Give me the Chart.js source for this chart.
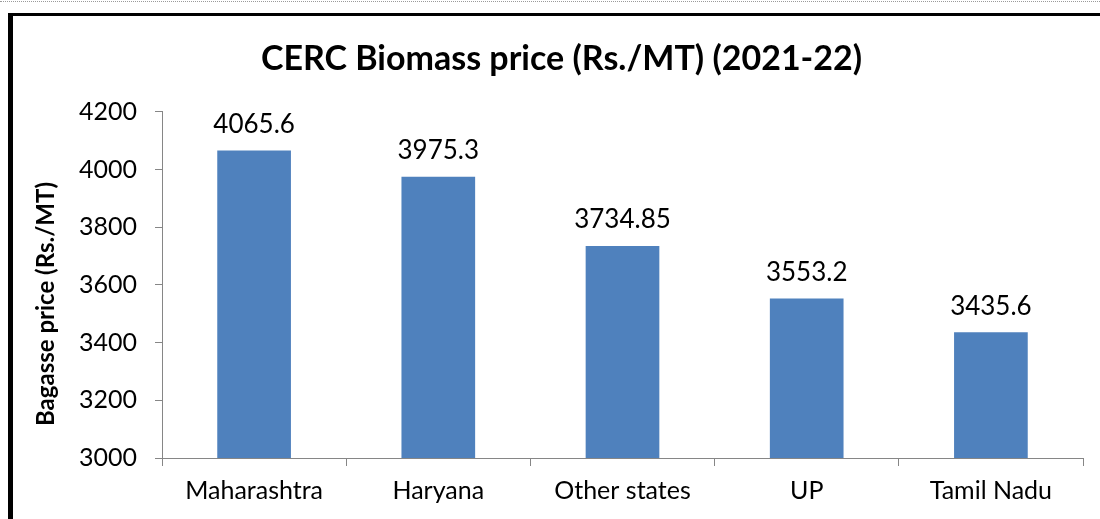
<!DOCTYPE html>
<html>
<head>
<meta charset="utf-8">
<script src="https://cdn.jsdelivr.net/npm/chart.js@4.4.1/dist/chart.umd.min.js"></script>
<style>
  html, body { margin: 0; padding: 0; background: #fff; }
  #page { position: relative; width: 1100px; height: 519px; overflow: hidden; }
  #dots { position: absolute; left: 0; top: 1px; width: 1100px; border-top: 1px dotted #9a9a9a; }
  #frame { position: absolute; left: 8px; top: 13px; width: 1200px; height: 600px;
           border-left: 5px solid #000; border-top: 3px solid #000; }
  #wrap { position: absolute; left: 0; top: 0; width: 1100px; height: 519px; }
</style>
</head>
<body>
<div id="page">
  <div id="dots"></div>
  <div id="frame"></div>
  <div id="wrap"><canvas id="chart"></canvas></div>
</div>
<script>
// chart data
const categories = ["Maharashtra", "Haryana", "Other states", "UP", "Tamil Nadu"];
const prices = [4065.6, 3975.3, 3734.85, 3553.2, 3435.6];
const yTicks = [3000, 3200, 3400, 3600, 3800, 4000, 4200];
const yTitle = "Bagasse price (Rs./MT)";

const FONT = "Lato, 'Open Sans', sans-serif";
const AXIS_GREY = "#868686";

// values above bars + y axis title (sits a bit lower than the axis middle)
const extraText = {
  id: "extraText",
  afterDatasetsDraw(chart) {
    const ctx = chart.ctx;
    const meta = chart.getDatasetMeta(0);
    ctx.save();
    ctx.font = "26px " + FONT;
    ctx.fillStyle = "#000";
    ctx.textAlign = "center";
    ctx.textBaseline = "middle";
    meta.data.forEach((bar, i) => {
      ctx.fillText(String(prices[i]), bar.x, bar.y - 26);
    });

    ctx.font = "bold 24px " + FONT;
    ctx.translate(46, 304);
    ctx.rotate(-Math.PI / 2);
    ctx.fillText(yTitle, 0, 0);
    ctx.restore();
  }
};

new Chart(document.getElementById("chart"), {
  type: "bar",
  data: {
    labels: categories,
    datasets: [{
      data: prices,
      backgroundColor: "#4F81BD",
      borderWidth: 0,
      categoryPercentage: 1,
      barPercentage: 0.4
    }]
  },
  options: {
    responsive: true,
    maintainAspectRatio: false,
    animation: false,
    layout: { padding: { left: 40, right: 17, top: 0, bottom: 0 } },
    plugins: {
      legend: { display: false },
      tooltip: { enabled: false },
      title: {
        display: true,
        text: "CERC Biomass price (Rs./MT) (2021-22)",
        color: "#000",
        font: { family: FONT, size: 34, weight: "bold", lineHeight: 1.2 },
        padding: { top: 39, bottom: 32 }
      }
    },
    scales: {
      x: {
        grid: { drawOnChartArea: false, drawTicks: true, tickLength: 8, color: AXIS_GREY, offset: true },
        border: { color: AXIS_GREY, width: 1 },
        ticks: { color: "#000", font: { family: FONT, size: 25 }, padding: 10, maxRotation: 0 },
        afterFit(scale) { scale.height = 61; }
      },
      y: {
        min: 3000,
        max: 4200,
        afterBuildTicks(scale) { scale.ticks = yTicks.map(v => ({ value: v })); },
        grid: { drawOnChartArea: false, drawTicks: true, tickLength: 7, color: AXIS_GREY },
        border: { color: AXIS_GREY, width: 1 },
        ticks: {
          color: "#000",
          font: { family: FONT, size: 25 },
          padding: 18,
          callback: v => String(v)
        },
        afterFit(scale) { scale.width = 122; }
      }
    }
  },
  plugins: [extraText]
});
</script>
</body>
</html>
